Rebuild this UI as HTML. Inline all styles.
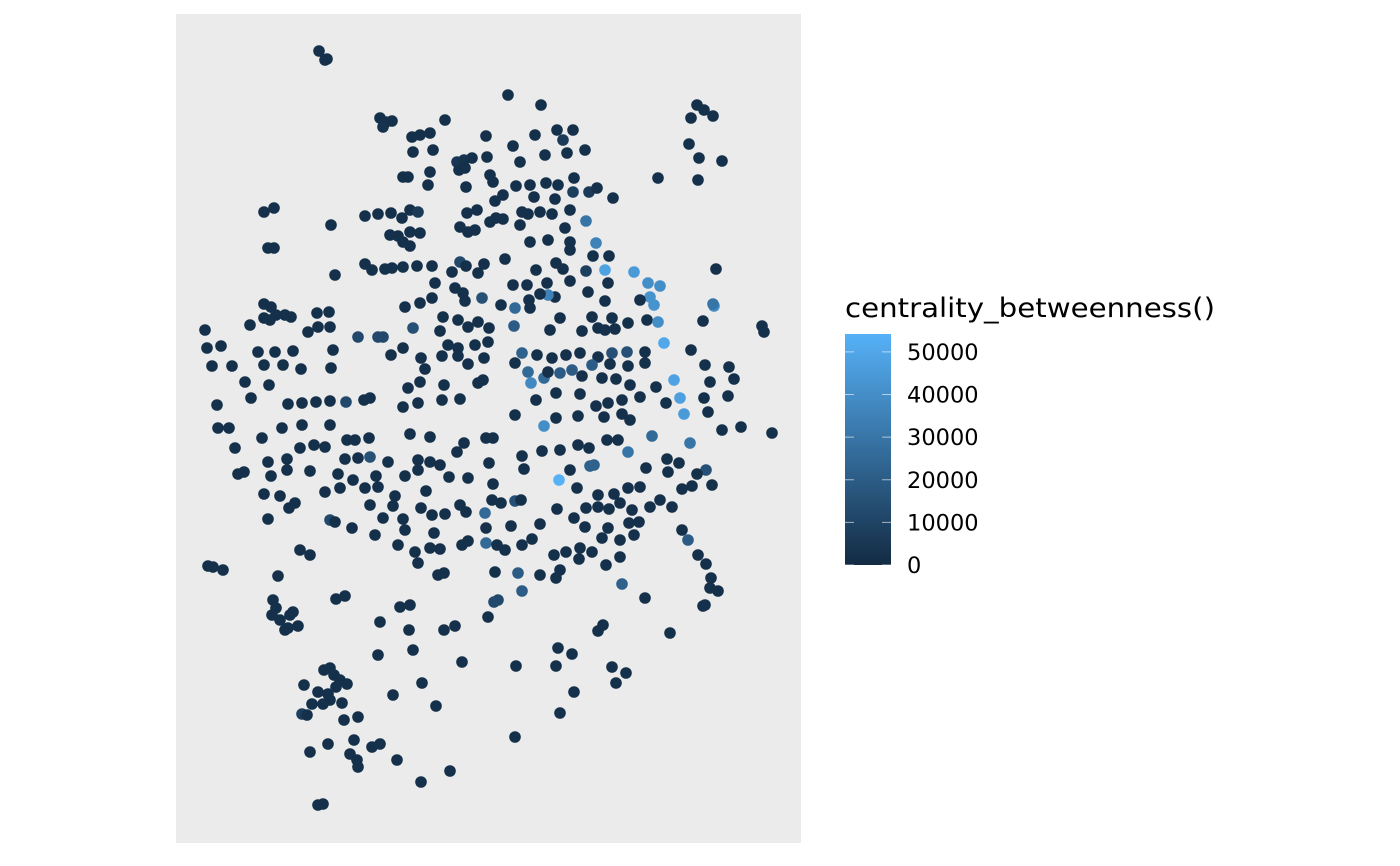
<!DOCTYPE html>
<html><head><meta charset="utf-8">
<style>
html,body{margin:0;padding:0;background:#fff;width:1400px;height:866px;overflow:hidden;}
svg{display:block;font-family:"DejaVu Sans","Liberation Sans",sans-serif;}
</style></head>
<body>
<svg id="chart" width="1400" height="866" viewBox="0 0 1400 866">
<defs>
<linearGradient id="grad" x1="0" y1="1" x2="0" y2="0">
<stop offset="0" stop-color="#132B43"/>
<stop offset="1" stop-color="#56B1F7"/>
</linearGradient>
</defs>
<rect x="176" y="14" width="625" height="829" fill="#EBEBEB"/>
<g id="points"></g>
<g>
<text x="845" y="317" font-size="27" textLength="370" lengthAdjust="spacingAndGlyphs" fill="#000">centrality_betweenness()</text>
<rect x="845" y="334" width="46" height="231" fill="url(#grad)"/>
<g id="legend-ticks"></g>
</g>
</svg>
<script>
const xDomain = [176, 801];
const yDomain = [14, 843];
const legendTicks = [0, 10000, 20000, 30000, 40000, 50000];
const legendTickLabels = ["0", "10000", "20000", "30000", "40000", "50000"];
const valueDomain = [0, 54200];
const nodes = [
[319,51,2000],[327,59,2000],[325,60,2000],[508,95,2000],[541,105,2000],[697,105,2000],[704,110,2000],[691,118,2000],[713,116,2000],
[380,118,2000],[386,122,3000],[392,121,2000],[383,127,3000],[445,120,2000],[557,130,2000],[573,130,2000],[535,135,2000],
[412,137,2000],[420,135,2000],[430,133,2000],[486,136,2000],[513,146,2000],[563,140,6000],[689,144,2000],[413,152,2000],
[433,150,2000],[457,162,5000],[464,160,3000],[472,158,2000],[487,157,2000],[545,155,2000],[567,153,2000],[585,150,2000],
[520,162,2000],[699,158,2000],[722,161,2000],[403,177,2000],[408,177,2000],[430,172,2000],[465,168,2000],[459,170,2000],
[490,175,2000],[493,182,2000],[428,185,2000],[466,187,2000],[516,186,2000],[530,185,2000],[546,183,2000],[558,185,2000],
[574,178,2000],[589,192,6000],[597,188,2000],[573,192,8000],[658,178,2000],[698,180,2000],[503,195,2000],[534,197,2000],
[495,201,2000],[555,199,2000],[613,198,2000],[264,212,2000],[274,208,2000],[365,216,2000],[378,214,2000],[391,213,2000],
[410,210,2000],[418,212,6000],[402,218,2000],[331,225,2000],[467,213,2000],[477,210,2000],[496,218,2000],[503,219,2000],
[522,212,2000],[528,214,2000],[540,212,2000],[552,214,2000],[570,210,2000],[586,221,30000],[475,230,2000],[490,222,2000],
[520,225,2000],[565,228,2000],[390,235,2000],[398,236,2000],[410,232,2000],[420,233,2000],[460,227,2000],[468,232,2000],
[403,242,2000],[410,246,2000],[530,242,2000],[548,240,2000],[570,242,2000],[596,243,35000],[268,248,2000],[274,248,2000],
[570,250,2000],[593,256,2000],[609,256,2000],[556,263,2000],[365,264,2000],[372,270,2000],[385,269,2000],[392,268,2000],
[403,267,2000],[417,266,2000],[432,266,2000],[460,262,12000],[466,266,2000],[484,264,2000],[505,259,2000],[536,270,2000],
[563,269,2000],[586,271,8000],[605,270,48000],[634,272,45000],[648,283,40000],[660,286,40000],[716,269,2000],[335,275,2000],
[452,272,2000],[478,273,2000],[513,285,2000],[527,285,2000],[547,283,2000],[570,281,2000],[608,283,2000],[435,283,2000],
[455,288,2000],[463,293,2000],[515,308,25000],[529,300,2000],[555,297,2000],[548,295,35000],[588,292,2000],[650,297,42000],
[654,305,42000],[714,306,40000],[713,304,30000],[405,307,2000],[420,303,2000],[432,298,2000],[465,301,2000],[482,298,15000],
[501,305,2000],[530,308,2000],[540,294,2000],[605,301,2000],[640,300,2000],[264,304,2000],[271,307,2000],[264,318,2000],
[276,315,2000],[285,315,2000],[291,317,2000],[270,320,2000],[317,313,2000],[329,312,2000],[443,317,2000],[458,320,2000],
[478,322,2000],[489,328,2000],[560,318,2000],[592,317,2000],[612,318,2000],[628,323,2000],[647,320,2000],[658,322,40000],
[703,321,2000],[205,330,2000],[250,325,2000],[330,327,2000],[318,327,2000],[308,332,2000],[358,337,12000],[378,337,12000],
[383,337,12000],[413,328,15000],[440,331,2000],[468,327,2000],[514,326,20000],[550,330,2000],[582,331,2000],[598,328,2000],
[605,330,2000],[615,329,2000],[762,326,2000],[764,332,2000],[207,348,2000],[221,346,2000],[258,352,2000],[275,352,2000],
[293,351,2000],[333,350,2000],[391,355,2000],[403,348,2000],[448,345,2000],[458,348,2000],[475,345,2000],[488,342,2000],
[522,353,22000],[537,355,2000],[552,358,2000],[566,355,2000],[580,353,2000],[598,357,2000],[612,353,15000],[627,352,15000],
[645,352,2000],[664,343,50000],[691,350,2000],[212,366,2000],[232,366,2000],[264,365,2000],[283,365,2000],[301,369,2000],
[331,368,2000],[421,358,2000],[425,369,2000],[442,356,2000],[458,356,2000],[468,364,2000],[484,358,2000],[515,363,2000],
[528,372,25000],[544,378,25000],[560,373,20000],[572,370,20000],[592,365,20000],[610,364,2000],[628,366,2000],[645,363,2000],
[705,365,2000],[729,367,2000],[245,382,2000],[269,385,2000],[420,382,2000],[408,388,2000],[444,385,2000],[478,383,2000],
[483,380,2000],[531,383,38000],[548,372,2000],[582,376,2000],[602,378,2000],[616,379,2000],[630,385,2000],[656,387,2000],
[674,380,48000],[710,382,2000],[734,379,2000],[251,398,2000],[288,404,2000],[302,403,2000],[316,402,2000],[330,401,2000],
[346,402,12000],[364,400,2000],[370,398,2000],[403,407,2000],[418,403,2000],[442,400,2000],[460,399,2000],[515,415,2000],
[536,400,2000],[556,393,2000],[580,394,2000],[596,406,2000],[608,403,2000],[622,400,2000],[640,397,2000],[666,403,2000],
[680,398,47000],[704,398,2000],[728,396,2000],[217,405,2000],[218,428,2000],[229,428,2000],[235,448,2000],[262,438,2000],
[282,428,2000],[302,425,2000],[330,425,2000],[347,440,2000],[355,440,2000],[369,438,2000],[410,434,2000],[430,437,2000],
[464,443,2000],[486,438,2000],[493,438,2000],[544,426,40000],[556,418,2000],[578,416,2000],[604,417,2000],[622,414,2000],
[630,420,2000],[684,414,45000],[708,412,2000],[722,430,2000],[741,427,2000],[772,433,2000],[607,440,2000],[652,436,25000],
[690,443,30000],[238,474,2000],[244,472,2000],[268,462,2000],[287,459,2000],[300,448,2000],[314,445,2000],[325,447,2000],
[345,459,2000],[358,458,2000],[370,457,15000],[418,460,2000],[430,462,2000],[440,465,2000],[457,452,2000],[489,463,2000],
[522,456,2000],[542,451,2000],[560,450,2000],[578,445,2000],[589,448,2000],[618,440,2000],[628,452,30000],[667,459,2000],
[679,463,2000],[706,470,15000],[271,476,2000],[287,470,2000],[310,471,2000],[338,474,2000],[353,480,2000],[376,476,2000],
[388,462,2000],[405,476,2000],[418,470,2000],[449,477,2000],[468,478,2000],[493,484,2000],[524,469,2000],[570,470,2000],
[590,466,22000],[594,465,22000],[646,468,2000],[697,474,2000],[712,485,2000],[264,494,2000],[280,496,2000],[289,508,2000],
[295,503,2000],[325,492,2000],[340,488,2000],[365,488,2000],[378,487,2000],[395,496,2000],[426,491,2000],[460,505,2000],
[466,512,2000],[492,500,2000],[515,501,15000],[521,500,2000],[559,480,55000],[577,488,2000],[598,495,2000],[614,494,2000],
[628,488,2000],[640,487,2000],[660,500,2000],[668,472,2000],[682,489,2000],[692,486,2000],[370,505,2000],[393,506,2000],
[383,518,2000],[403,519,2000],[421,508,2000],[432,515,2000],[445,514,2000],[485,513,25000],[501,503,2000],[540,524,2000],
[574,518,2000],[586,508,2000],[598,507,2000],[609,509,2000],[620,503,2000],[632,510,2000],[650,507,2000],[672,507,2000],
[268,519,2000],[330,520,12000],[335,522,2000],[352,528,2000],[375,535,2000],[398,545,2000],[405,530,2000],[434,533,2000],
[468,541,2000],[486,543,25000],[486,528,2000],[511,526,2000],[557,509,2000],[585,527,2000],[608,528,2000],[629,523,2000],
[639,522,2000],[682,530,2000],[688,540,20000],[300,550,2000],[310,555,2000],[415,552,2000],[418,563,2000],[430,548,2000],
[440,549,2000],[462,545,2000],[497,545,2000],[505,550,2000],[522,545,2000],[532,539,2000],[554,555,2000],[566,552,2000],
[580,548,2000],[602,538,2000],[620,540,2000],[634,535,2000],[698,555,2000],[706,564,2000],[208,566,2000],[213,567,2000],
[223,570,2000],[278,576,2000],[438,575,2000],[444,573,2000],[495,572,2000],[518,573,20000],[540,575,2000],[556,578,2000],
[560,570,2000],[579,559,2000],[592,552,2000],[606,565,2000],[620,557,2000],[711,578,2000],[710,588,2000],[705,605,2000],
[718,591,2000],[273,600,2000],[276,608,2000],[272,615,2000],[290,615,2000],[293,612,2000],[280,620,2000],[336,599,2000],
[345,596,2000],[400,607,2000],[410,605,2000],[494,602,12000],[498,600,12000],[522,591,20000],[622,584,22000],[645,598,2000],
[703,606,2000],[285,630,2000],[288,628,2000],[298,626,2000],[380,622,2000],[409,630,2000],[444,630,2000],[455,626,2000],
[488,617,2000],[598,631,2000],[603,625,2000],[670,633,2000],[558,648,2000],[572,654,2000],[378,655,2000],[413,650,2000],
[462,662,2000],[516,666,2000],[556,666,2000],[612,667,2000],[626,673,2000],[324,670,2000],[330,668,2000],[334,675,2000],
[340,680,2000],[347,684,2000],[336,687,2000],[328,694,2000],[318,692,2000],[304,685,2000],[422,683,2000],[616,683,2000],
[393,695,2000],[574,692,2000],[330,700,2000],[323,704,2000],[302,714,8000],[307,715,2000],[342,703,2000],[312,704,2000],
[358,717,2000],[344,720,2000],[560,713,2000],[436,706,2000],[354,740,2000],[372,747,2000],[380,744,2000],[328,744,2000],
[310,752,2000],[350,754,2000],[357,760,2000],[358,767,2000],[397,760,2000],[515,737,2000],[421,782,2000],[450,771,2000],
[318,805,2000],[323,804,2000]
];

const panel = {x0:176, x1:801, y0:14, y1:843};
function xScale(v){ return panel.x0 + (v - xDomain[0]) / (xDomain[1]-xDomain[0]) * (panel.x1 - panel.x0); }
function yScale(v){ return panel.y0 + (v - yDomain[0]) / (yDomain[1]-yDomain[0]) * (panel.y1 - panel.y0); }
const barTop = 334, barBottom = 565;
function legendY(v){ return barBottom - (v - valueDomain[0]) / (valueDomain[1]-valueDomain[0]) * (barBottom - barTop); }
const lo = [0x13,0x2B,0x43], hi = [0x56,0xB1,0xF7];
function colorScale(v){
  const t = Math.max(0, Math.min(1, (v - valueDomain[0]) / (valueDomain[1]-valueDomain[0])));
  const c = lo.map((a,i)=>Math.round(a + (hi[i]-a)*t));
  return "rgb(" + c[0] + "," + c[1] + "," + c[2] + ")";
}
const NS = "http://www.w3.org/2000/svg";
const g = document.getElementById("points");
nodes.forEach(function(n){
  const c = document.createElementNS(NS,"circle");
  c.setAttribute("cx", xScale(n[0]));
  c.setAttribute("cy", yScale(n[1]));
  c.setAttribute("r", 5.8);
  c.setAttribute("fill", colorScale(n[2]));
  
  
  g.appendChild(c);
});
const lt = document.getElementById("legend-ticks");
legendTicks.forEach(function(v,i){
  const y = legendY(v);
  [[845,854],[882,891]].forEach(function(p){
    const l = document.createElementNS(NS,"line");
    l.setAttribute("x1",p[0]); l.setAttribute("x2",p[1]);
    l.setAttribute("y1",y); l.setAttribute("y2",y);
    l.setAttribute("stroke","#ffffff"); l.setAttribute("stroke-opacity","0.6"); l.setAttribute("stroke-width","1");
    
    
    lt.appendChild(l);
  });
  const t = document.createElementNS(NS,"text");
  t.setAttribute("x",907); t.setAttribute("y",y+8);
  t.setAttribute("font-size","22.5"); t.setAttribute("fill","#000");
  t.textContent = legendTickLabels[i];
  
  
  lt.appendChild(t);
});
</script>
</body></html>
